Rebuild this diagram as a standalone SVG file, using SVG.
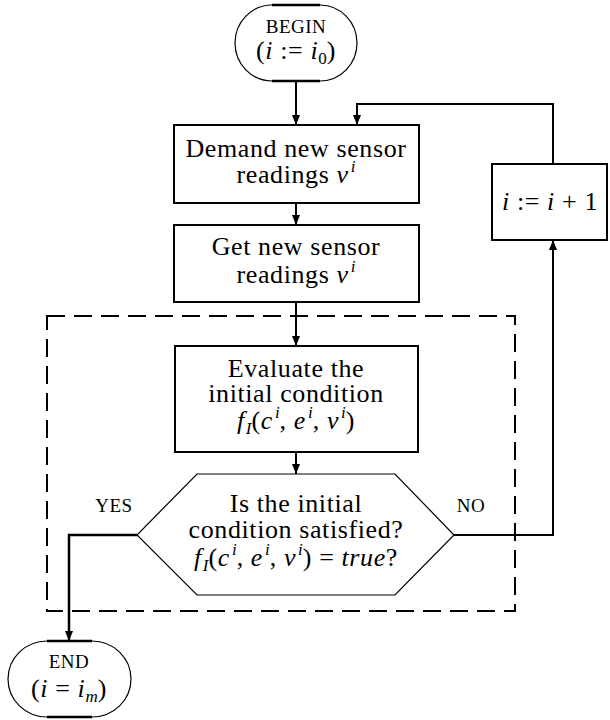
<svg xmlns="http://www.w3.org/2000/svg" width="610" height="720" viewBox="0 0 610 720">
<style>
text{font-family:"Liberation Serif","DejaVu Serif",serif;fill:#000;text-anchor:middle}
.t{font-size:26px;letter-spacing:0.6px}
.s{font-size:17px;letter-spacing:0}
.sc{font-size:19px;letter-spacing:0.5px}
.m{font-style:italic}
.box{fill:#fff;stroke:#000;stroke-width:2}
.term{fill:#fff;stroke:#000;stroke-width:1.2}
.flat{stroke:#000;stroke-width:2.5}
.hex{fill:#fff;stroke:#000;stroke-width:1.2}
.c{fill:none;stroke:#000;stroke-width:2}
.dash{fill:none;stroke:#000;stroke-width:2;stroke-dasharray:18 9}
</style>
<defs>
<marker id="a" viewBox="0 0 10 8" refX="10" refY="4" markerWidth="10" markerHeight="8" markerUnits="userSpaceOnUse" orient="auto">
<path d="M0,0 L10,4 L0,8 z" fill="#000"/>
</marker>
</defs>
<rect class="dash" x="47" y="316" width="468" height="295"/>
<g id="connectors">
<path class="c" d="M296,81 V125" marker-end="url(#a)"/>
<path class="c" d="M553,164 V104 H357 V125" marker-end="url(#a)"/>
<path class="c" d="M296,203 V225" marker-end="url(#a)"/>
<path class="c" d="M296,302 V346" marker-end="url(#a)"/>
<path class="c" d="M296,452 V474" marker-end="url(#a)"/>
<path class="c" d="M137,535 H69 V641" style="stroke-width:2.5" marker-end="url(#a)"/>
<path class="c" d="M454,535 H553 V240" marker-end="url(#a)"/>
<text class="sc" x="114" y="512">YES</text>
<text class="sc" x="471" y="512">NO</text>
</g>
<g id="begin">
<path class="term" d="M272,5 H320 A37,38 0 0 1 320,81 H272 A37,38 0 0 1 272,5 z"/>
<path class="flat" d="M272,5 H320 M272,81 H320"/>
<text class="sc" x="296" y="33">BEGIN</text>
<text class="t" x="296" y="59">(<tspan class="m">i</tspan> := <tspan class="m">i</tspan><tspan class="s" dy="5">0</tspan><tspan dy="-5">)</tspan></text>
</g>
<g id="demand">
<rect class="box" x="174" y="125" width="245" height="78"/>
<text class="t" x="296" y="157">Demand new sensor</text>
<text class="t" x="296" y="183">readings <tspan class="m">v</tspan><tspan class="s m" dx="2" dy="-11">i</tspan></text>
</g>
<g id="get">
<rect class="box" x="174" y="225" width="245" height="77"/>
<text class="t" x="296" y="255">Get new sensor</text>
<text class="t" x="296" y="283">readings <tspan class="m">v</tspan><tspan class="s m" dx="2" dy="-11">i</tspan></text>
</g>
<g id="incr">
<rect class="box" x="492" y="164" width="115" height="76"/>
<text class="t" x="550" y="210"><tspan class="m">i</tspan> := <tspan class="m">i</tspan> + 1</text>
</g>
<g id="evaluate">
<rect class="box" x="175" y="346" width="243" height="106"/>
<text class="t" x="296" y="377">Evaluate the</text>
<text class="t" x="296" y="402">initial condition</text>
<text class="t" x="296" y="429"><tspan class="m">f</tspan><tspan class="s m" dx="1" dy="5">I</tspan><tspan dy="-5">(</tspan><tspan class="m">c</tspan><tspan class="s m" dx="2" dy="-11">i</tspan><tspan dy="11">, </tspan><tspan class="m">e</tspan><tspan class="s m" dx="2" dy="-11">i</tspan><tspan dy="11">, </tspan><tspan class="m">v</tspan><tspan class="s m" dx="2" dy="-11">i</tspan><tspan dy="11">)</tspan></text>
</g>
<g id="decision">
<path class="hex" d="M197,474 H395 L454,535 L395,595 H197 L137,535 z"/>
<text class="t" x="296" y="512">Is the initial</text>
<text class="t" x="296" y="538">condition satisfied?</text>
<text class="t" x="296" y="566"><tspan class="m">f</tspan><tspan class="s m" dx="1" dy="5">I</tspan><tspan dy="-5">(</tspan><tspan class="m">c</tspan><tspan class="s m" dx="2" dy="-11">i</tspan><tspan dy="11">, </tspan><tspan class="m">e</tspan><tspan class="s m" dx="2" dy="-11">i</tspan><tspan dy="11">, </tspan><tspan class="m">v</tspan><tspan class="s m" dx="2" dy="-11">i</tspan><tspan dy="11">) = </tspan><tspan class="m">true</tspan>?</text>
</g>
<g id="end">
<path class="term" d="M47,641 H92 A39,38 0 0 1 92,717 H47 A39,38 0 0 1 47,641 z"/>
<path class="flat" d="M47,641 H92 M47,717 H92"/>
<text class="sc" x="69" y="668">END</text>
<text class="t" x="69" y="697">(<tspan class="m">i</tspan> = <tspan class="m">i</tspan><tspan class="s m" dy="5">m</tspan><tspan dy="-5">)</tspan></text>
</g>
</svg>
